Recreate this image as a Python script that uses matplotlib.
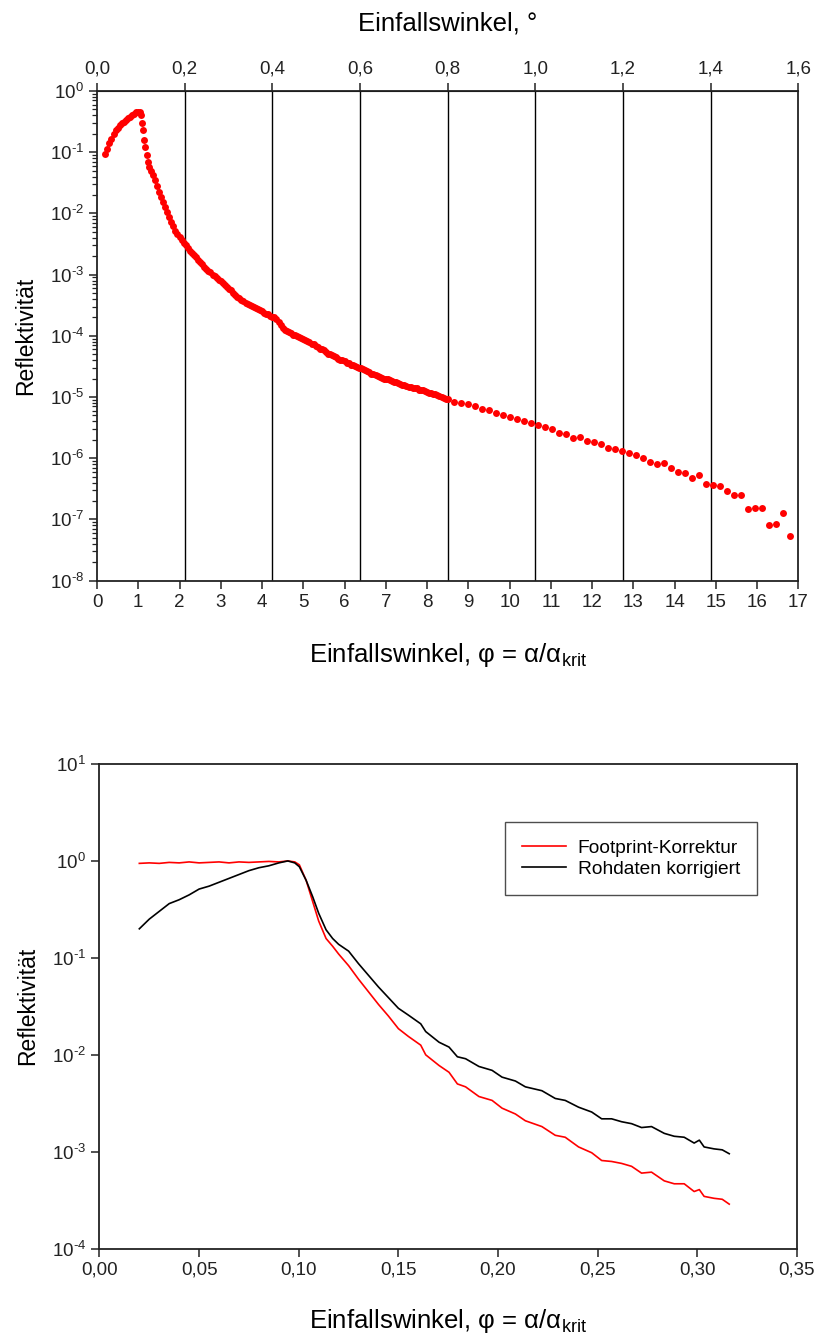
import numpy as np
import matplotlib.pyplot as plt
from matplotlib.ticker import FuncFormatter, FixedLocator, NullLocator

plt.rcParams['font.family'] = ['Liberation Sans', 'DejaVu Sans']
plt.rcParams['mathtext.default'] = 'regular'

# Reflectivity scan vs. normalised angle phi = alpha/alpha_crit (log10 values)
# below and around the critical angle
phi_edge = [0.20, 0.25, 0.30, 0.35, 0.40, 0.45, 0.50, 0.55, 0.60, 0.65, 0.70, 0.75, 0.80, 0.85,
            0.90, 0.95, 1.00, 1.03, 1.07, 1.10, 1.12, 1.14, 1.17, 1.20, 1.23, 1.27, 1.31, 1.36,
            1.40, 1.45, 1.50, 1.55, 1.60, 1.65, 1.70, 1.75, 1.80, 1.85, 1.90, 1.95]
logr_edge = [-1.03, -0.94, -0.85, -0.78, -0.70, -0.64, -0.60, -0.56, -0.53, -0.50, -0.47, -0.44,
             -0.42, -0.40, -0.37, -0.35, -0.34, -0.35, -0.39, -0.53, -0.64, -0.80, -0.91, -1.04,
             -1.16, -1.25, -1.30, -1.37, -1.45, -1.55, -1.65, -1.73, -1.81, -1.90, -1.98, -2.06,
             -2.14, -2.21, -2.28, -2.33]
# fine steps up to phi = 8.5
phi_fine = [2.00, 2.05, 2.10, 2.15, 2.20, 2.25, 2.30, 2.35, 2.40, 2.45, 2.50, 2.55, 2.60, 2.65,
            2.70, 2.75, 2.80, 2.85, 2.90, 2.95, 3.00, 3.05, 3.10, 3.15, 3.20, 3.25, 3.30, 3.35,
            3.40, 3.45, 3.50, 3.55, 3.60, 3.65, 3.70, 3.75, 3.80, 3.85, 3.90, 3.95, 4.00, 4.05,
            4.10, 4.15, 4.20, 4.25, 4.30, 4.35, 4.40, 4.45, 4.50, 4.55, 4.60, 4.65, 4.70, 4.75,
            4.80, 4.85, 4.90, 4.95, 5.00, 5.05, 5.10, 5.15, 5.20, 5.25, 5.30, 5.35, 5.40, 5.45,
            5.50, 5.55, 5.60, 5.65, 5.70, 5.75, 5.80, 5.85, 5.90, 5.95, 6.00, 6.05, 6.10, 6.15,
            6.20, 6.25, 6.30, 6.35, 6.40, 6.45, 6.50, 6.55, 6.60, 6.65, 6.70, 6.75, 6.80, 6.85,
            6.90, 6.95, 7.00, 7.05, 7.10, 7.15, 7.20, 7.25, 7.30, 7.35, 7.40, 7.45, 7.50, 7.55,
            7.60, 7.65, 7.70, 7.75, 7.80, 7.85, 7.90, 7.95, 8.00, 8.05, 8.10, 8.15, 8.20, 8.25,
            8.30, 8.35, 8.40, 8.45, 8.50]
logr_fine = [-2.38, -2.44, -2.48, -2.52, -2.57, -2.62, -2.65, -2.68, -2.72, -2.77, -2.80, -2.83,
             -2.87, -2.91, -2.94, -2.96, -3.00, -3.03, -3.05, -3.09, -3.11, -3.13, -3.17, -3.21,
             -3.24, -3.26, -3.30, -3.34, -3.37, -3.39, -3.42, -3.44, -3.46, -3.48, -3.49, -3.52,
             -3.53, -3.55, -3.57, -3.58, -3.60, -3.63, -3.64, -3.65, -3.67, -3.69, -3.70, -3.73,
             -3.77, -3.83, -3.88, -3.91, -3.93, -3.94, -3.96, -3.98, -3.99, -4.01, -4.02, -4.04,
             -4.05, -4.07, -4.09, -4.11, -4.13, -4.14, -4.17, -4.19, -4.21, -4.22, -4.24, -4.27,
             -4.29, -4.30, -4.32, -4.33, -4.35, -4.38, -4.39, -4.40, -4.42, -4.44, -4.45, -4.47,
             -4.48, -4.50, -4.51, -4.52, -4.53, -4.55, -4.56, -4.58, -4.60, -4.62, -4.63, -4.64,
             -4.66, -4.68, -4.69, -4.70, -4.71, -4.71, -4.72, -4.74, -4.75, -4.76, -4.77, -4.79,
             -4.80, -4.81, -4.82, -4.83, -4.84, -4.85, -4.86, -4.86, -4.88, -4.89, -4.89, -4.91,
             -4.92, -4.93, -4.94, -4.95, -4.95, -4.97, -4.98, -5.00, -5.01, -5.03, -5.04]
# coarse steps above phi = 8.5
phi_coarse = [8.66, 8.83, 8.99, 9.16, 9.33, 9.50, 9.67, 9.84, 10.00, 10.18, 10.35, 10.52, 10.69,
              10.86, 11.03, 11.20, 11.37, 11.54, 11.70, 11.88, 12.05, 12.22, 12.39, 12.56, 12.73,
              12.90, 13.07, 13.24, 13.41, 13.58, 13.75, 13.92, 14.09, 14.25, 14.42, 14.59, 14.76,
              14.93, 15.10, 15.27, 15.44, 15.61, 15.78, 15.95, 16.12, 16.29, 16.46, 16.62, 16.79]
logr_coarse = [-5.08, -5.10, -5.12, -5.15, -5.19, -5.22, -5.26, -5.29, -5.33, -5.36, -5.40, -5.42,
               -5.46, -5.49, -5.53, -5.59, -5.60, -5.67, -5.66, -5.72, -5.74, -5.77, -5.83, -5.85,
               -5.89, -5.92, -5.95, -6.00, -6.06, -6.09, -6.08, -6.16, -6.22, -6.24, -6.32, -6.28,
               -6.42, -6.44, -6.46, -6.54, -6.61, -6.60, -6.83, -6.82, -6.81, -7.09, -7.08, -6.90,
               -7.28]

# conversion of the top axis: 17 phi-units correspond to 1.6 degrees
phi_max = 17.0
deg_max = 1.6
deg_ticks = [0.0, 0.2, 0.4, 0.6, 0.8, 1.0, 1.2, 1.4, 1.6]

# Footprint-corrected vs. raw data (log10 values)
theta = [0.020, 0.025, 0.030, 0.035, 0.040, 0.045, 0.050, 0.055, 0.060, 0.065, 0.070, 0.075,
         0.080, 0.085, 0.090, 0.0945, 0.098, 0.1003, 0.1037, 0.107, 0.110, 0.1137, 0.117, 0.120,
         0.125, 0.130, 0.135, 0.140, 0.145, 0.150, 0.155, 0.1612, 0.1637, 0.1704, 0.1754, 0.1796,
         0.1837, 0.1904, 0.197, 0.202, 0.2087, 0.2137, 0.222, 0.2287, 0.2337, 0.2404, 0.247,
         0.252, 0.257, 0.262, 0.267, 0.272, 0.277, 0.2834, 0.2884, 0.2934, 0.2984, 0.301, 0.3034,
         0.3084, 0.3125, 0.316]
logr_footprint = [-0.025, -0.02, -0.025, -0.015, -0.02, -0.01, -0.02, -0.015, -0.01, -0.02, -0.01,
                  -0.015, -0.01, -0.005, -0.01, 0.0, -0.01, -0.04, -0.20, -0.42, -0.62, -0.80,
                  -0.88, -0.96, -1.08, -1.22, -1.35, -1.48, -1.60, -1.73, -1.81, -1.90, -2.00,
                  -2.11, -2.18, -2.30, -2.33, -2.43, -2.47, -2.55, -2.61, -2.68, -2.74, -2.83,
                  -2.85, -2.95, -3.01, -3.09, -3.10, -3.12, -3.15, -3.22, -3.21, -3.30, -3.33,
                  -3.33, -3.41, -3.39, -3.46, -3.48, -3.49, -3.54]
logr_raw = [-0.70, -0.60, -0.52, -0.44, -0.40, -0.35, -0.29, -0.26, -0.22, -0.18, -0.14, -0.10,
            -0.07, -0.05, -0.02, 0.0, -0.02, -0.06, -0.20, -0.37, -0.54, -0.71, -0.80, -0.86,
            -0.93, -1.06, -1.18, -1.30, -1.41, -1.52, -1.59, -1.68, -1.76, -1.87, -1.92, -2.02,
            -2.04, -2.12, -2.16, -2.23, -2.27, -2.33, -2.37, -2.45, -2.47, -2.54, -2.59, -2.66,
            -2.66, -2.69, -2.71, -2.75, -2.74, -2.81, -2.84, -2.85, -2.91, -2.88, -2.95, -2.97,
            -2.98, -3.02]


def comma(fmt):
    return FuncFormatter(lambda v, pos: fmt.format(v).replace('.', ','))


def log_label(v, pos):
    # short hyphen in the exponent instead of a wide minus sign
    e = int(round(np.log10(v)))
    return r'$10^{%s}$' % str(e).replace('-', '\u2010')


def decades(lo, hi):
    return [10.0 ** e for e in range(lo, hi + 1)]


tick_fs = 13.5
label_fs = 18.5
ylabel_fs = 16.5
spine_c = '#222222'
dot = dict(ls='none', marker='o', color='#ff0000', ms=5, mew=0, zorder=3)

fig = plt.figure(figsize=(8.16, 13.42), dpi=100)

# ---------------- upper panel ----------------
ax1 = fig.add_axes([0.1189, 0.5674, 0.8595, 0.3648])
for d in deg_ticks[1:-1]:
    ax1.axvline(d * phi_max / deg_max, color='black', lw=1.0, zorder=1)
ax1.plot(phi_edge, 10 ** np.array(logr_edge), **dot)
ax1.plot(phi_fine, 10 ** np.array(logr_fine), **dot)
ax1.plot(phi_coarse, 10 ** np.array(logr_coarse), **dot)
ax1.set_yscale('log')
ax1.set_xlim(0, phi_max)
ax1.set_ylim(1e-8, 1)
ax1.xaxis.set_major_locator(FixedLocator(range(0, 18)))
ax1.yaxis.set_major_locator(FixedLocator(decades(-8, 0)))
ax1.yaxis.set_minor_locator(FixedLocator([m * 10.0 ** e for e in range(-8, 0) for m in range(2, 10)]))
ax1.yaxis.set_major_formatter(FuncFormatter(log_label))
ax1.tick_params(which='major', direction='out', length=6, width=1.1, labelsize=tick_fs, colors=spine_c)
ax1.tick_params(which='minor', direction='out', length=3.5, width=0.9, colors=spine_c)
ax1.set_xlabel(r'Einfallswinkel, φ = α/α$_{krit}$', fontsize=label_fs, labelpad=22)
ax1.set_ylabel('Reflektivität', fontsize=ylabel_fs, labelpad=9)

sec = ax1.secondary_xaxis('top', functions=(lambda p: p * deg_max / phi_max,
                                            lambda d: d * phi_max / deg_max))
sec.set_xticks(deg_ticks)
sec.xaxis.set_major_formatter(comma('{:.1f}'))
sec.tick_params(direction='out', length=6, width=1.1, labelsize=tick_fs, colors=spine_c)
sec.set_xlabel('Einfallswinkel, °', fontsize=label_fs, labelpad=22)

# ---------------- lower panel ----------------
ax2 = fig.add_axes([0.1219, 0.0695, 0.8548, 0.3612])
ax2.plot(theta, 10 ** np.array(logr_footprint), color='#ff0000', lw=1.2, label='Footprint-Korrektur')
ax2.plot(theta, 10 ** np.array(logr_raw), color='black', lw=1.2, label='Rohdaten korrigiert')
ax2.set_yscale('log')
ax2.set_xlim(0, 0.35)
ax2.set_ylim(1e-4, 10)
ax2.set_xticks([0.0, 0.05, 0.10, 0.15, 0.20, 0.25, 0.30, 0.35])
ax2.xaxis.set_major_formatter(comma('{:.2f}'))
ax2.yaxis.set_major_locator(FixedLocator(decades(-4, 1)))
ax2.yaxis.set_minor_locator(NullLocator())
ax2.yaxis.set_major_formatter(FuncFormatter(log_label))
ax2.tick_params(direction='out', length=6, width=1.1, labelsize=tick_fs, colors=spine_c)
ax2.set_xlabel(r'Einfallswinkel, φ = α/α$_{krit}$', fontsize=label_fs, labelpad=20)
ax2.set_ylabel('Reflektivität', fontsize=ylabel_fs, labelpad=9)
leg = ax2.legend(loc='upper right', bbox_to_anchor=(0.943, 0.880), borderaxespad=0,
                 fontsize=13.8, frameon=True, fancybox=False, edgecolor=spine_c,
                 handlelength=2.3, handletextpad=0.6, borderpad=0.9, labelspacing=0.2)
leg.get_frame().set_linewidth(1.0)

for ax in (ax1, ax2):
    for s in ax.spines.values():
        s.set_color(spine_c)
        s.set_linewidth(1.3)

fig.savefig('out.png', dpi=100)
